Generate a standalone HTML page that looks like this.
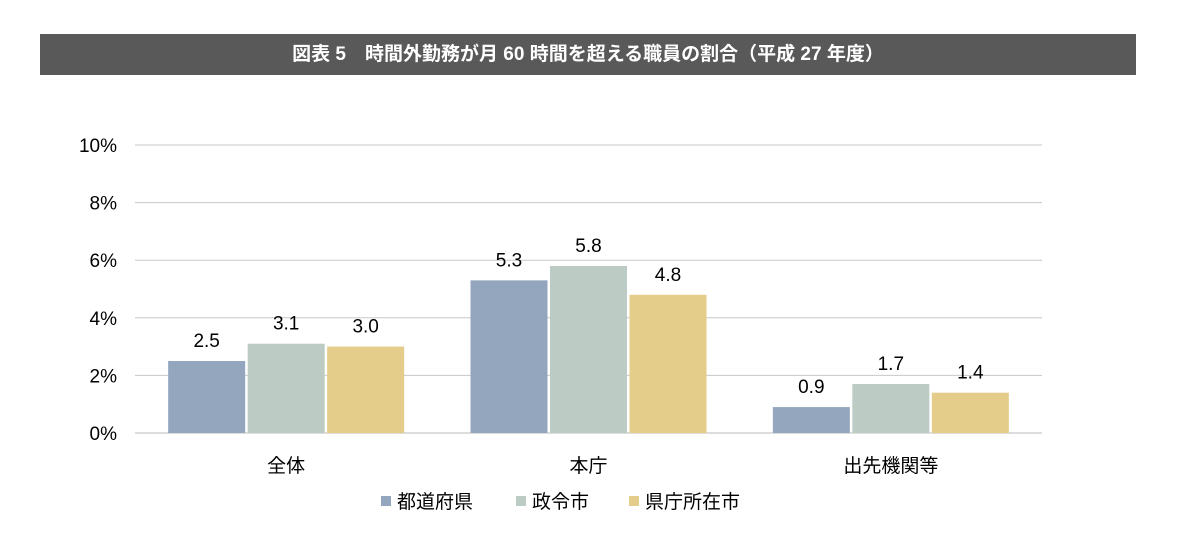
<!DOCTYPE html>
<html><head><meta charset="utf-8">
<style>
body{margin:0;width:1190px;height:550px;background:#fff;font-family:"Liberation Sans","Noto Sans CJK JP",sans-serif;overflow:hidden}
#title{position:absolute;left:40px;top:34px;width:1096px;height:41px;background:#595959;color:#fff;font-weight:bold;font-size:19px;line-height:41px;text-align:center}
svg{position:absolute;left:0;top:0}
</style></head><body>
<div id="title">図表 5　時間外勤務が月 60 時間を超える職員の割合（平成 27 年度）</div>
<svg id="chart" width="1190" height="550"></svg>
<script>
const categories=["全体","本庁","出先機関等"];
const seriesNames=["都道府県","政令市","県庁所在市"];
const prefValues=[2.5,5.3,0.9];
const cityValues=[3.1,5.8,1.7];
const capitalValues=[3.0,4.8,1.4];
const yTicks=[0,2,4,6,8,10];
const series=[prefValues,cityValues,capitalValues];
const colors=["#93a6bd","#bccbc3","#e4cd8a"];
const NS="http://www.w3.org/2000/svg";
const svg=document.getElementById('chart');
const x0=135,x1=1042,y0=433,yTop=145,yMax=10;
const y=v=>y0-(v/yMax)*(y0-yTop);
const gw=(x1-x0)/categories.length;
function mk(t,a){const e=document.createElementNS(NS,t);for(const k in a)e.setAttribute(k,a[k]);svg.appendChild(e);return e;}
yTicks.forEach(t=>{
 const g=mk('line',{x1:x0,x2:x1,y1:y(t),y2:y(t),stroke:t===0?'#bbb':'#c8c8c8','stroke-width':1});
 
 
 const l=mk('text',{x:117,y:y(t)+7,'text-anchor':'end','font-size':19,fill:'#000'});
 l.textContent=t+'%';
 
 
});
const bw=77,gap=2.5;
categories.forEach((c,i)=>{
 const cx=x0+gw*(i+0.5);
 series.forEach((s,j)=>{
  const bx=cx+(j-1)*(bw+gap)-bw/2;
  const r=mk('rect',{x:bx,y:y(s[i]),width:bw,height:y0-y(s[i]),fill:colors[j]});
  
  
  const t=mk('text',{x:bx+bw/2,y:y(s[i])-14,'text-anchor':'middle','font-size':19,fill:'#000'});
  t.textContent=s[i].toFixed(1);
  
  
 });
 const cl=mk('text',{x:cx,y:472,'text-anchor':'middle','font-size':19,fill:'#000'});
 cl.textContent=c;
 
 
});
const legX=[381,516,629];
seriesNames.forEach((n,j)=>{
 const r=mk('rect',{x:legX[j],y:496,width:10,height:10,fill:colors[j]});
 
 
 const t=mk('text',{x:legX[j]+16,y:508,'font-size':19,fill:'#000'});
 t.textContent=n;
 
 
});
</script>
</body></html>
